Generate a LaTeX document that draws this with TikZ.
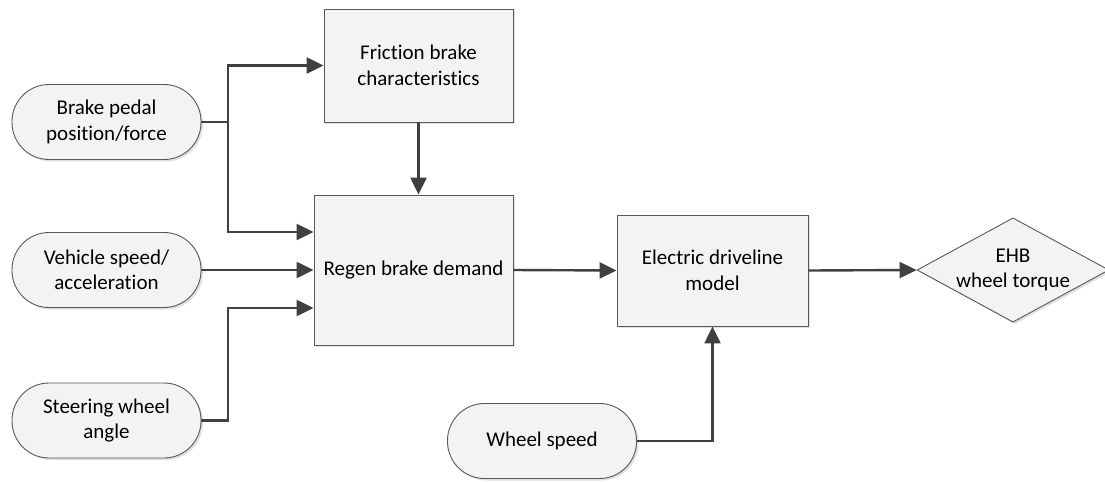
\documentclass[tikz,border=0pt]{standalone}
\usepackage{fontspec}
\setmainfont[Ligatures=NoCommon]{Carlito}
\usetikzlibrary{arrows.meta,shapes.geometric,shadows,calc}
\definecolor{edgec}{HTML}{595959}
\definecolor{linec}{HTML}{404040}
\definecolor{fillc}{HTML}{F3F3F3}
\tikzset{
  shad/.style={drop shadow={shadow xshift=2pt,shadow yshift=-2pt,fill=black!12,opacity=1}},
  procbox/.style={draw=edgec,line width=0.9pt,fill=fillc,shad,align=center,inner sep=0pt,
     font=\fontsize{21}{25.5}\selectfont},
  termbox/.style={draw=edgec,line width=0.9pt,fill=fillc,shad,align=center,inner sep=0pt,
     rounded corners=37pt,minimum width=189pt,minimum height=75pt,
     font=\fontsize{21}{25.5}\selectfont},
  decbox/.style={draw=edgec,line width=0.9pt,fill=fillc,shad,diamond,align=center,inner sep=0pt,
     minimum width=184pt,minimum height=100pt,aspect=1.84,
     font=\fontsize{21}{25.5}\selectfont},
  conn/.style={draw=linec,line width=2.4pt,-{Triangle[length=17pt,width=16pt]}},
  plain/.style={draw=linec,line width=2.4pt}
}
\begin{document}
\begin{tikzpicture}[x=1pt,y=-1pt]
\useasboundingbox (0,0) rectangle (1105,482);
% nodes
\node[procbox,minimum width=189pt,minimum height=113pt] (fb) at (418.5,65.5) {Friction brake\\characteristics};
\node[procbox,minimum width=199pt,minimum height=150pt] (rb) at (413.5,270) {Regen brake demand};
\node[procbox,minimum width=191pt,minimum height=111pt] (ed) at (712.5,270.5) {Electric driveline\\model};
\node[decbox] (ehb) at (1013,270) {EHB\\wheel torque};
\node[termbox] (bp) at (106.5,122) {Brake pedal\\position/force};
\node[termbox] (vs) at (106.5,270) {Vehicle speed/\\acceleration};
\node[termbox] (sw) at (106.5,420.5) {Steering wheel\\angle};
\node[termbox] (ws) at (542,441) {Wheel speed};
% junction coordinates
\coordinate (j1) at (228,122);
\coordinate (rbtop) at ($(rb.west)+(0,-38)$);
\coordinate (rbbot) at ($(rb.west)+(0,38)$);
\coordinate (j2) at (228,420.5);
% connectors
\draw[plain] (bp.east) -- (j1);
\draw[conn] (j1) |- (fb.west);
\draw[conn] (j1) |- (rbtop);
\draw[conn] (vs.east) -- (rb.west);
\draw[conn] (sw.east) -- (j2) |- (rbbot);
\draw[conn] (fb.south) -- (fb.south |- rb.north);
\draw[conn] (rb.east) -- (ed.west);
\draw[conn] (ed.east) -- (ehb.west);
\draw[conn] (ws.east) -| (ed.south);
\end{tikzpicture}
\end{document}
